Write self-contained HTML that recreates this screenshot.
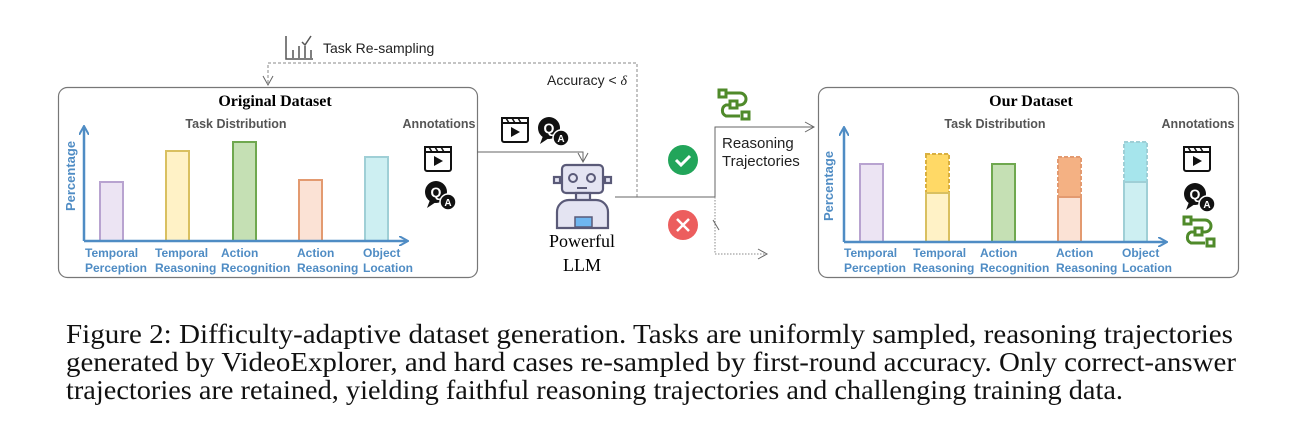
<!DOCTYPE html>
<html><head><meta charset="utf-8"><style>
body{margin:0;background:#fff;width:1299px;height:443px;overflow:hidden}
svg text{font-family:"Liberation Sans",sans-serif}
.lb{font-size:12px;font-weight:bold;fill:#4f8cc4}
.cap{font-family:"Liberation Serif",serif;font-size:27px;fill:#111}
</style></head><body>
<svg width="1299" height="443" viewBox="0 0 1299 443" xmlns="http://www.w3.org/2000/svg">
<defs>
<marker id="ab" markerWidth="10" markerHeight="10" refX="8" refY="5" orient="auto" markerUnits="userSpaceOnUse"><path d="M0,0 L9,5 L0,10" fill="none" stroke="#4f8cc4" stroke-width="2"/></marker>
<marker id="ag" markerWidth="12" markerHeight="12" refX="10" refY="6" orient="auto" markerUnits="userSpaceOnUse"><path d="M1,1 L10,6 L1,11" fill="none" stroke="#666" stroke-width="1"/></marker>
<g id="vid"><rect x="1" y="6" width="26" height="20" rx="2" fill="#fff" stroke="#111" stroke-width="2"/><path d="M1,7 L27,7 L27,2 L1,2 Z" fill="#fff" stroke="#111" stroke-width="2"/><path d="M5,2 l3,5 M11,2 l3,5 M17,2 l3,5" stroke="#111" stroke-width="1.5"/><path d="M10,11 L19,16 L10,21 Z" fill="#111"/></g>
<g id="qa"><circle cx="12" cy="12" r="11" fill="#111"/><path d="M6,20 L3,28 L12,22Z" fill="#111"/><text x="12" y="17" font-size="14" font-weight="bold" fill="#fff" text-anchor="middle">Q</text><circle cx="24" cy="22" r="8" fill="#111" stroke="#fff" stroke-width="1.5"/><text x="24" y="26" font-size="10" font-weight="bold" fill="#fff" text-anchor="middle">A</text></g>
<g id="traj" fill="none" stroke="#4f8a2a" stroke-width="3"><rect x="1" y="1" width="7" height="7"/><rect x="12" y="12" width="7" height="7"/><rect x="24" y="23" width="7" height="7"/><path d="M8,4 H22 a6,6 0 0 1 0,12 H19 M12,16 H8 a6,6 0 0 0 0,11 H22"/></g>
</defs>

<g stroke="#555" stroke-width="1.5" fill="none"><path d="M286,36 V59 H313"/><path d="M293,50 V58 M299,46 V58 M305,46 V58 M311,50 V58"/><path d="M302,42 l3,3 l6,-9"/></g>
<text x="323" y="53" font-size="14" fill="#222">Task Re-sampling</text>
<path d="M637,197 V63 H268 V85" fill="none" stroke="#888" stroke-width="1" stroke-dasharray="3,2" marker-end="url(#ag)"/>
<text x="547" y="85" font-size="14" fill="#222">Accuracy &lt; <tspan style="font-family:'Liberation Serif',serif" font-style="italic">δ</tspan></text>

<rect x="58.5" y="87.5" width="419" height="190" rx="9" fill="#fff" stroke="#777" stroke-width="1.2"/>
<text x="275" y="106" font-size="16" font-weight="bold" text-anchor="middle" style="font-family:'Liberation Serif',serif">Original Dataset</text>
<text x="236" y="128" font-size="12.5" font-weight="bold" fill="#555" text-anchor="middle">Task Distribution</text>
<text x="439" y="128" font-size="12.5" font-weight="bold" fill="#555" text-anchor="middle">Annotations</text>
<text transform="translate(75,176) rotate(-90)" font-size="13" font-weight="bold" fill="#4f8cc4" text-anchor="middle">Percentage</text>
<g stroke-width="2">
<rect x="100" y="182" width="23" height="59" fill="#ece4f3" stroke="#b8a3d0"/>
<rect x="166" y="151" width="23" height="90" fill="#fff2c6" stroke="#d9c060"/>
<rect x="233" y="142" width="23" height="99" fill="#c5e0b4" stroke="#6fa84f"/>
<rect x="299" y="180" width="23" height="61" fill="#fbe2d5" stroke="#e39a70"/>
<rect x="365" y="157" width="23" height="84" fill="#cdeff2" stroke="#9fcfd6"/>
</g>
<path d="M84,241 V127" stroke="#4f8cc4" stroke-width="2.5" marker-end="url(#ab)"/>
<path d="M84,241 H407" stroke="#4f8cc4" stroke-width="2.5" marker-end="url(#ab)"/>
<text class="lb" x="85" y="257">Temporal</text><text class="lb" x="85" y="272">Perception</text>
<text class="lb" x="155" y="257">Temporal</text><text class="lb" x="155" y="272">Reasoning</text>
<text class="lb" x="221" y="257">Action</text><text class="lb" x="221" y="272">Recognition</text>
<text class="lb" x="297" y="257">Action</text><text class="lb" x="297" y="272">Reasoning</text>
<text class="lb" x="363" y="257">Object</text><text class="lb" x="363" y="272">Location</text>
<use href="#vid" x="424" y="145"/>
<use href="#qa" x="424" y="180"/>

<path d="M477,152 H583 V162" fill="none" stroke="#666" stroke-width="1" marker-end="url(#ag)"/>
<use href="#vid" x="501" y="116"/>
<use href="#qa" x="537" y="116"/>
<g stroke="#5a5a78" stroke-width="2.2" fill="#e4e4f2">
<rect x="554" y="177" width="6" height="6"/><rect x="605" y="177" width="6" height="6"/>
<rect x="562" y="165" width="41" height="28" rx="4"/>
<rect x="576" y="193" width="14" height="8"/>
<path d="M557,228 V212 a12,12 0 0 1 12,-12 H596 a12,12 0 0 1 12,12 V228 Z"/>
</g>
<circle cx="573" cy="178" r="4" fill="none" stroke="#5a5a78" stroke-width="2"/><circle cx="591" cy="178" r="4" fill="none" stroke="#5a5a78" stroke-width="2"/>
<path d="M577,188 H587" stroke="#5a5a78" stroke-width="2"/>
<rect x="575" y="217" width="17" height="10" fill="#6fb6f0" stroke="#5a5a78" stroke-width="1.5"/>
<text x="582" y="247" font-size="18" text-anchor="middle" style="font-family:'Liberation Serif',serif">Powerful</text>
<text x="582" y="271" font-size="18" text-anchor="middle" style="font-family:'Liberation Serif',serif">LLM</text>
<path d="M615,197 H715 V127 H814" fill="none" stroke="#666" stroke-width="1" marker-end="url(#ag)"/>
<path d="M715,197 V254 H767" fill="none" stroke="#888" stroke-width="1" stroke-dasharray="1.5,1.5" marker-end="url(#ag)"/>
<path d="M713,220 L719,230" stroke="#666" stroke-width="1"/>
<use href="#traj" x="718" y="89"/>
<text x="722" y="148" font-size="15" fill="#222">Reasoning</text>
<text x="722" y="166" font-size="15" fill="#222">Trajectories</text>
<circle cx="683" cy="160" r="15" fill="#22a55a"/><path d="M676,160 l5,5 l9,-9" fill="none" stroke="#fff" stroke-width="3"/>
<circle cx="683" cy="225" r="15" fill="#ec5e5e"/><path d="M677,219 l12,12 M689,219 l-12,12" stroke="#fff" stroke-width="2.5"/>

<rect x="818.5" y="87.5" width="420" height="190" rx="9" fill="#fff" stroke="#777" stroke-width="1.2"/>
<text x="1031" y="106" font-size="16" font-weight="bold" text-anchor="middle" style="font-family:'Liberation Serif',serif">Our Dataset</text>
<text x="995" y="128" font-size="12.5" font-weight="bold" fill="#555" text-anchor="middle">Task Distribution</text>
<text x="1198" y="128" font-size="12.5" font-weight="bold" fill="#555" text-anchor="middle">Annotations</text>
<text transform="translate(833,186) rotate(-90)" font-size="13" font-weight="bold" fill="#4f8cc4" text-anchor="middle">Percentage</text>
<g stroke-width="2">
<rect x="860" y="164" width="23" height="78" fill="#ece4f3" stroke="#b8a3d0"/>
<rect x="926" y="154" width="23" height="39" fill="#ffd966" stroke="#d9b040" stroke-dasharray="4,2"/>
<rect x="926" y="193" width="23" height="49" fill="#fff2c6" stroke="#d9c060"/>
<rect x="992" y="164" width="23" height="78" fill="#c5e0b4" stroke="#6fa84f"/>
<rect x="1058" y="157" width="23" height="40" fill="#f4b183" stroke="#e39a70" stroke-dasharray="4,2"/>
<rect x="1058" y="197" width="23" height="45" fill="#fbe2d5" stroke="#e39a70"/>
<rect x="1124" y="142" width="23" height="40" fill="#a6e5ec" stroke="#9fcfd6" stroke-dasharray="4,2"/>
<rect x="1124" y="182" width="23" height="60" fill="#cdeff2" stroke="#9fcfd6"/>
</g>
<path d="M844,242 V128" stroke="#4f8cc4" stroke-width="2.5" marker-end="url(#ab)"/>
<path d="M844,242 H1166" stroke="#4f8cc4" stroke-width="2.5" marker-end="url(#ab)"/>
<text class="lb" x="844" y="257">Temporal</text><text class="lb" x="844" y="272">Perception</text>
<text class="lb" x="913" y="257">Temporal</text><text class="lb" x="913" y="272">Reasoning</text>
<text class="lb" x="980" y="257">Action</text><text class="lb" x="980" y="272">Recognition</text>
<text class="lb" x="1056" y="257">Action</text><text class="lb" x="1056" y="272">Reasoning</text>
<text class="lb" x="1122" y="257">Object</text><text class="lb" x="1122" y="272">Location</text>
<use href="#vid" x="1183" y="145"/>
<use href="#qa" x="1183" y="182"/>
<use href="#traj" x="1183" y="216"/>

<text class="cap" x="66" y="343" textLength="1167" lengthAdjust="spacingAndGlyphs">Figure 2: Difficulty-adaptive dataset generation. Tasks are uniformly sampled, reasoning trajectories</text>
<text class="cap" x="66" y="371" textLength="1170" lengthAdjust="spacingAndGlyphs">generated by VideoExplorer, and hard cases re-sampled by first-round accuracy. Only correct-answer</text>
<text class="cap" x="66" y="399" textLength="1057" lengthAdjust="spacingAndGlyphs">trajectories are retained, yielding faithful reasoning trajectories and challenging training data.</text>
</svg>
</body></html>
